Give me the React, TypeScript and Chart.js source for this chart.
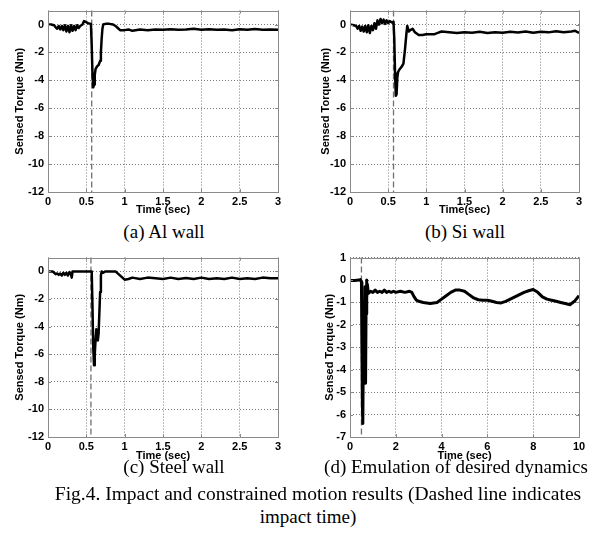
import React, { useEffect, useRef } from "react";
import { Chart, registerables } from "chart.js";
Chart.register(...registerables);

// ---------- data ----------
const tA = [0, 0.04, 0.08, 0.1, 0.12, 0.14, 0.16, 0.18, 0.2, 0.22, 0.24, 0.26, 0.28, 0.3, 0.32, 0.34, 0.36, 0.38, 0.4, 0.42, 0.45, 0.47, 0.49, 0.52, 0.56, 0.57, 0.58, 0.59, 0.6, 0.61, 0.62, 0.64, 0.66, 0.68, 0.69, 0.7, 0.71, 0.72, 0.75, 0.8, 0.85, 0.88, 0.91, 0.94, 1.0, 1.05, 1.1, 1.2, 1.3, 1.4, 1.5, 1.6, 1.7, 1.8, 1.9, 2.0, 2.1, 2.2, 2.3, 2.4, 2.5, 2.6, 2.7, 2.8, 2.9, 3.0];
const yA = [0, 0, -0.05, -0.2, -0.3, -0.1, -0.35, -0.1, -0.4, -0.05, -0.5, -0.1, -0.55, -0.05, -0.45, -0.1, -0.4, -0.05, -0.25, -0.1, 0.0, 0.25, 0.2, 0.1, 0.05, -1.5, -3.5, -4.5, -4.3, -3.6, -3.2, -3.0, -2.9, -2.6, -2.0, -1.0, -0.3, 0.0, 0.05, 0.05, 0.0, -0.1, -0.25, -0.4, -0.4, -0.35, -0.45, -0.35, -0.4, -0.35, -0.38, -0.33, -0.38, -0.35, -0.3, -0.38, -0.33, -0.38, -0.35, -0.4, -0.33, -0.37, -0.32, -0.38, -0.35, -0.38];

const tB = [0, 0.05, 0.08, 0.1, 0.12, 0.14, 0.16, 0.18, 0.2, 0.22, 0.24, 0.26, 0.28, 0.3, 0.32, 0.34, 0.36, 0.38, 0.4, 0.42, 0.44, 0.46, 0.48, 0.5, 0.52, 0.55, 0.57, 0.58, 0.59, 0.6, 0.61, 0.62, 0.63, 0.65, 0.68, 0.7, 0.72, 0.74, 0.75, 0.77, 0.79, 0.82, 0.85, 0.9, 0.95, 1.0, 1.1, 1.15, 1.2, 1.3, 1.4, 1.5, 1.6, 1.7, 1.8, 1.9, 2.0, 2.1, 2.2, 2.3, 2.4, 2.5, 2.6, 2.7, 2.8, 2.9, 2.95, 3.0];
const yB = [0, -0.05, -0.1, -0.3, -0.1, -0.45, -0.15, -0.5, -0.1, -0.55, -0.05, -0.6, -0.1, -0.4, 0.1, -0.3, 0.3, 0.0, 0.4, 0.1, 0.35, 0.05, 0.3, 0.1, 0.25, 0.15, 0.2, -1.0, -3.5, -5.1, -5.0, -3.8, -3.4, -3.2, -3.0, -2.8, -1.8, -0.6, -0.1, -0.5, -0.4, -0.3, -0.55, -0.75, -0.75, -0.7, -0.7, -0.6, -0.5, -0.55, -0.6, -0.55, -0.58, -0.52, -0.6, -0.55, -0.58, -0.52, -0.57, -0.5, -0.58, -0.52, -0.56, -0.48, -0.55, -0.5, -0.45, -0.6];

const tC = [0, 0.06, 0.08, 0.1, 0.12, 0.14, 0.16, 0.18, 0.2, 0.22, 0.24, 0.26, 0.28, 0.3, 0.31, 0.32, 0.4, 0.5, 0.57, 0.58, 0.59, 0.6, 0.61, 0.62, 0.63, 0.64, 0.65, 0.66, 0.67, 0.68, 0.69, 0.7, 0.72, 0.75, 0.8, 0.88, 0.92, 0.96, 1.0, 1.05, 1.1, 1.2, 1.3, 1.4, 1.5, 1.6, 1.7, 1.8, 1.9, 2.0, 2.1, 2.2, 2.3, 2.4, 2.5, 2.6, 2.7, 2.8, 2.9, 3.0];
const yC = [0, 0, -0.1, -0.2, -0.15, -0.25, -0.15, -0.3, -0.1, -0.25, -0.1, -0.3, -0.05, -0.2, -0.45, 0.0, 0.0, 0.0, 0.0, -2.5, -5.5, -6.8, -6.0, -5.0, -4.2, -4.5, -5.0, -4.5, -3.0, -1.5, -0.3, 0.0, -0.1, 0.0, 0.0, 0.0, -0.2, -0.4, -0.6, -0.55, -0.45, -0.55, -0.45, -0.5, -0.55, -0.45, -0.55, -0.48, -0.55, -0.45, -0.55, -0.5, -0.55, -0.45, -0.55, -0.5, -0.55, -0.45, -0.5, -0.5];

const tD = [0, 0.2, 0.4, 0.45, 0.5, 0.52, 0.54, 0.56, 0.58, 0.6, 0.62, 0.64, 0.66, 0.68, 0.7, 0.72, 0.74, 0.76, 0.8, 0.9, 1.0, 1.1, 1.2, 1.3, 1.4, 1.5, 1.6, 1.7, 1.8, 1.9, 2.0, 2.2, 2.4, 2.6, 2.7, 2.8, 2.9, 3.0, 3.2, 3.5, 3.8, 4.0, 4.2, 4.4, 4.6, 4.8, 5.0, 5.2, 5.4, 5.6, 5.8, 6.0, 6.2, 6.4, 6.6, 6.8, 7.0, 7.2, 7.4, 7.6, 7.8, 8.0, 8.2, 8.4, 8.6, 8.8, 9.0, 9.2, 9.4, 9.6, 9.8, 10];
const yD = [-0.02, -0.02, 0.0, 0.02, -0.1, -3.0, -5.5, -6.4, -3.5, -1.0, -4.5, -2.0, -0.3, -4.6, -1.5, 0.0, -0.8, -0.2, -0.6, -0.5, -0.55, -0.45, -0.55, -0.5, -0.55, -0.45, -0.55, -0.5, -0.55, -0.5, -0.55, -0.5, -0.55, -0.5, -0.55, -0.75, -0.9, -0.95, -1.0, -1.05, -1.0, -0.85, -0.7, -0.55, -0.45, -0.45, -0.5, -0.65, -0.8, -0.88, -0.9, -0.9, -0.95, -1.0, -1.02, -0.95, -0.85, -0.75, -0.65, -0.55, -0.48, -0.42, -0.55, -0.75, -0.85, -0.9, -0.95, -1.0, -1.05, -1.1, -0.95, -0.7];

const impactTimes = [0.57, 0.57, 0.56, 0.5];

const xTicks3 = [0, 0.5, 1, 1.5, 2, 2.5, 3];
const xTicks10 = [0, 2, 4, 6, 8, 10];
const yTicks12 = [-12, -10, -8, -6, -4, -2, 0];
const yTicks7 = [-7, -6, -5, -4, -3, -2, -1, 0, 1];

const yTitle = "Sensed Torque (Nm)";
const xTitles = ["Time (sec)", "Time(sec)", "Time (sec)", "Time (sec)"];
const captions = ["(a) Al wall", "(b) Si wall", "(c) Steel wall", "(d) Emulation of desired dynamics"];
const figCaption1 = "Fig.4. Impact and constrained motion results (Dashed line indicates";
const figCaption2 = "impact time)";

type PanelProps = {
  left: number; top: number; width: number; height: number;
  padTop: number; plotH: number; axisW: number; padRight: number; yTitlePad: number;
  t: number[]; y: number[]; xMin: number; xMax: number; yMin: number; yMax: number;
  xTicks: number[]; yTicks: number[]; impact: number; xTitle: string; lineWidth: number;
};

const AX_FONT = { family: "'Liberation Sans', Arial, sans-serif", weight: "bold" as const, size: 11 };
const GRAY = "#8a8a8a";
const GRID = "#7a7a7a";

function Panel(p: PanelProps) {
  const ref = useRef<HTMLCanvasElement>(null);
  useEffect(() => {
    const boxPlugin = {
      id: "box",
      beforeDatasetsDraw(chart: any) {
        const { ctx, chartArea, scales } = chart;
        const px = scales.x.getPixelForValue(p.impact);
        ctx.save();
        ctx.strokeStyle = "#707070";
        ctx.lineWidth = 1.3;
        ctx.setLineDash([6, 3]);
        ctx.beginPath();
        ctx.moveTo(px, chartArea.top);
        ctx.lineTo(px, chartArea.bottom);
        ctx.stroke();
        ctx.restore();
      },
      afterDatasetsDraw(chart: any) {
        const { ctx, chartArea, scales } = chart;
        const { left, right, top, bottom } = chartArea;
        ctx.save();
        ctx.strokeStyle = GRAY;
        ctx.lineWidth = 1;
        ctx.setLineDash([]);
        ctx.strokeRect(Math.round(left) + 0.5, Math.round(top) + 0.5, Math.round(right - left), Math.round(bottom - top));
        ctx.beginPath();
        p.xTicks.forEach((v) => {
          const x = Math.round(scales.x.getPixelForValue(v)) + 0.5;
          ctx.moveTo(x, bottom); ctx.lineTo(x, bottom - 3);
          ctx.moveTo(x, top); ctx.lineTo(x, top + 3);
        });
        p.yTicks.forEach((v) => {
          const y = Math.round(scales.y.getPixelForValue(v)) + 0.5;
          ctx.moveTo(left, y); ctx.lineTo(left + 3, y);
          ctx.moveTo(right, y); ctx.lineTo(right - 3, y);
        });
        ctx.stroke();
        ctx.restore();
      },
    };
    const chart = new Chart(ref.current!, {
      type: "line",
      data: {
        datasets: [{
          data: p.t.map((v, i) => ({ x: v, y: p.y[i] })),
          borderColor: "#000",
          borderWidth: p.lineWidth,
          pointRadius: 0,
          tension: 0,
          fill: false,
          borderJoinStyle: "round",
        }],
      },
      options: {
        animation: false,
        responsive: false,
        devicePixelRatio: 1,
        plugins: { legend: { display: false }, tooltip: { enabled: false } },
        layout: { padding: { top: p.padTop, right: p.padRight, left: 0, bottom: 0 } },
        scales: {
          x: {
            type: "linear",
            min: p.xMin, max: p.xMax,
            afterBuildTicks: (s: any) => { s.ticks = p.xTicks.map((v) => ({ value: v })); },
            afterFit: (s: any) => { s.height = p.height - p.padTop - p.plotH; },
            grid: { color: GRID, lineWidth: 1, drawTicks: false },
            border: { display: false, dash: [1, 2] },
            ticks: { color: "#000", font: AX_FONT, padding: 3, maxRotation: 0, callback: (v: any) => String(v) },
            title: { display: true, text: p.xTitle, color: "#000", font: AX_FONT, padding: { top: 0, bottom: 0 } },
          },
          y: {
            type: "linear",
            min: p.yMin, max: p.yMax,
            afterBuildTicks: (s: any) => { s.ticks = p.yTicks.map((v) => ({ value: v })); },
            afterFit: (s: any) => { s.width = p.axisW; },
            grid: { color: GRID, lineWidth: 1, drawTicks: false },
            border: { display: false, dash: [1, 2] },
            ticks: { color: "#000", font: AX_FONT, padding: 4, callback: (v: any) => String(v) },
            title: { display: true, text: yTitle, color: "#000", font: AX_FONT, padding: { top: p.yTitlePad, bottom: 0 } },
          },
        },
      },
      plugins: [boxPlugin],
    } as any);
    return () => chart.destroy();
  }, []);
  return (
    <canvas
      ref={ref}
      width={p.width}
      height={p.height}
      style={{ position: "absolute", left: p.left, top: p.top, width: p.width, height: p.height }}
    />
  );
}

const capStyle: React.CSSProperties = {
  position: "absolute",
  transform: "translateX(-50%)",
  whiteSpace: "nowrap",
  fontFamily: "'Liberation Serif', 'Times New Roman', serif",
  fontSize: 19,
  lineHeight: "20px",
  color: "#000",
};

export default function App() {
  return (
    <div style={{ position: "absolute", left: 0, top: 0, width: 603, height: 533, background: "#fff", overflow: "hidden" }}>
      <Panel left={0} top={0} width={290} height={217} padTop={8} plotH={184} axisW={48} padRight={12} yTitlePad={13}
        t={tA} y={yA} xMin={0} xMax={3} yMin={-12} yMax={1} xTicks={xTicks3} yTicks={yTicks12} impact={impactTimes[0]} xTitle={xTitles[0]} lineWidth={2.5} />
      <Panel left={300} top={0} width={292} height={217} padTop={8} plotH={184} axisW={50} padRight={13} yTitlePad={19}
        t={tB} y={yB} xMin={0} xMax={3} yMin={-12} yMax={1} xTicks={xTicks3} yTicks={yTicks12} impact={impactTimes[1]} xTitle={xTitles[1]} lineWidth={2.5} />
      <Panel left={0} top={247} width={290} height={216} padTop={8} plotH={182} axisW={48} padRight={12} yTitlePad={13}
        t={tC} y={yC} xMin={0} xMax={3} yMin={-12} yMax={1} xTicks={xTicks3} yTicks={yTicks12} impact={impactTimes[2]} xTitle={xTitles[2]} lineWidth={2.5} />
      <Panel left={300} top={247} width={292} height={216} padTop={8} plotH={182} axisW={50} padRight={13} yTitlePad={23}
        t={tD} y={yD} xMin={0} xMax={10} yMin={-7} yMax={1} xTicks={xTicks10} yTicks={yTicks7} impact={impactTimes[3]} xTitle={xTitles[3]} lineWidth={3} />
      <div style={{ ...capStyle, left: 164, top: 222 }}>{captions[0]}</div>
      <div style={{ ...capStyle, left: 465, top: 222 }}>{captions[1]}</div>
      <div style={{ ...capStyle, left: 174, top: 457 }}>{captions[2]}</div>
      <div style={{ ...capStyle, left: 456, top: 457 }}>{captions[3]}</div>
      <div style={{ ...capStyle, left: 318, top: 484, fontSize: 19.5 }}>{figCaption1}</div>
      <div style={{ ...capStyle, left: 308, top: 507 }}>{figCaption2}</div>
    </div>
  );
}
